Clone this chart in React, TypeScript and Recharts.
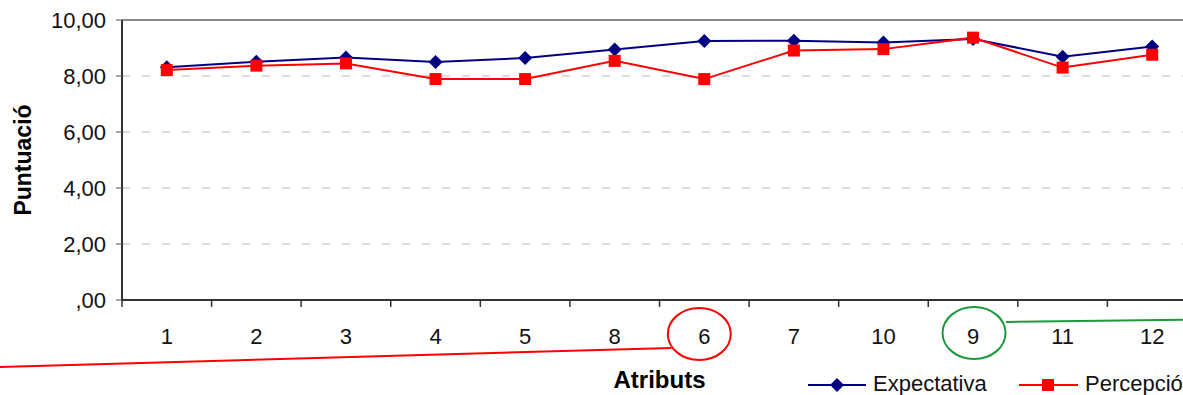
import {
  LineChart,
  Line,
  XAxis,
  YAxis,
  CartesianGrid,
  Legend,
  ReferenceLine,
} from 'recharts';

const categories = ['1', '2', '3', '4', '5', '8', '6', '7', '10', '9', '11', '12'];
const expectativa = [8.31, 8.51, 8.66, 8.5, 8.64, 8.95, 9.25, 9.26, 9.2, 9.32, 8.69, 9.05];
const percepcio = [8.21, 8.37, 8.45, 7.89, 7.89, 8.54, 7.89, 8.91, 8.96, 9.37, 8.3, 8.76];
const yTicks = [0, 2, 4, 6, 8, 10];

const data = categories.map((c, i) => ({
  atribut: c,
  expectativa: expectativa[i],
  percepcio: percepcio[i],
}));

const FONT = '"Liberation Sans", Arial, sans-serif';
const NAVY = '#000080';
const RED = '#ff0000';
const GREEN = '#1a9a3a';

const fmt = (v: number) => (v === 0 ? ',00' : v.toFixed(2).replace('.', ','));

function Diamond({ cx, cy }: any) {
  if (cx == null || cy == null) return null;
  const r = 7;
  return (
    <polygon
      points={`${cx},${cy - r} ${cx + r},${cy} ${cx},${cy + r} ${cx - r},${cy}`}
      fill={NAVY}
    />
  );
}

function Square({ cx, cy }: any) {
  if (cx == null || cy == null) return null;
  return <rect x={cx - 6} y={cy - 6} width={12} height={12} fill={RED} />;
}

// category tick: mark at band boundary (Excel style) + label, plus the hand-drawn circles
function XTick({ x, y, payload }: any) {
  const half = payload.offset || 44.8;
  const v = payload.value;
  return (
    <g>
      <line x1={x - half} y1={y} x2={x - half} y2={y + 7} stroke="#333" strokeWidth={1.5} />
      <text x={x} y={y + 44} textAnchor="middle" fontFamily={FONT} fontSize={22} fill="#111">
        {v}
      </text>
      {v === '6' && (
        <g fill="none" stroke={RED} strokeWidth={2}>
          <ellipse cx={x - 5} cy={y + 34} rx={31.5} ry={26} />
          <line x1={x - 33} y1={y + 48} x2={0} y2={y + 67} />
        </g>
      )}
      {v === '9' && (
        <g fill="none" stroke={GREEN} strokeWidth={2}>
          <ellipse cx={x + 1} cy={y + 33} rx={31.5} ry={26} />
          <line x1={x + 33} y1={y + 22} x2={x + 260} y2={y + 19} />
        </g>
      )}
    </g>
  );
}

function XLabel({ viewBox }: any) {
  const { x, y, width } = viewBox;
  return (
    <text x={x + width / 2} y={y + 88} textAnchor="middle" fontFamily={FONT} fontSize={24} fontWeight="bold" fill="#000">
      Atributs
    </text>
  );
}

function YLabel({ viewBox }: any) {
  const { x, y, height } = viewBox;
  const cx = x + 31;
  const cy = y + height / 2;
  return (
    <text
      x={cx}
      y={cy}
      transform={`rotate(-90 ${cx} ${cy})`}
      textAnchor="middle"
      fontFamily={FONT}
      fontSize={23}
      fontWeight="bold"
      fill="#000"
    >
      Puntuació
    </text>
  );
}

function LegendBox() {
  return (
    <svg width={400} height={26} style={{ display: 'block', overflow: 'visible' }}>
      <line x1={0} y1={13} x2={58} y2={13} stroke={NAVY} strokeWidth={2} />
      <Diamond cx={29} cy={13} />
      <text x={65} y={19} fontFamily={FONT} fontSize={22} fill="#111">Expectativa</text>
      <line x1={211} y1={13} x2={270} y2={13} stroke={RED} strokeWidth={2} />
      <Square cx={240} cy={13} />
      <text x={277} y={19} fontFamily={FONT} fontSize={22} fill="#111">Percepció</text>
    </svg>
  );
}

export default function App() {
  return (
    <div style={{ position: 'absolute', left: 0, top: 0, width: 1183, height: 395, overflow: 'hidden', background: '#fff' }}>
      <LineChart width={1210} height={395} data={data} margin={{ top: 20, right: 13, left: 0, bottom: 0 }}>
        <CartesianGrid vertical={false} stroke="#d0d0d0" strokeWidth={1.5} strokeDasharray="8 12" />
        <ReferenceLine y={10} stroke="#888" strokeWidth={2} />
        <XAxis
          dataKey="atribut"
          scale="band"
          interval={0}
          height={69}
          tickSize={0}
          tickMargin={0}
          tickLine={false}
          axisLine={{ stroke: '#333', strokeWidth: 2 }}
          tick={<XTick />}
          label={{ content: XLabel }}
        />
        <YAxis
          domain={[0, 10]}
          ticks={yTicks}
          width={122}
          tickFormatter={fmt}
          tickSize={6}
          tickMargin={10}
          tickLine={{ stroke: '#555' }}
          axisLine={{ stroke: '#333', strokeWidth: 2 }}
          tick={{ fontFamily: FONT, fontSize: 22, fill: '#111' }}
          label={{ content: YLabel }}
        />
        <Legend
          verticalAlign="bottom"
          content={<LegendBox />}
          wrapperStyle={{ left: 808, top: 372, bottom: 'auto', width: 'auto' }}
        />
        <Line
          type="linear"
          dataKey="expectativa"
          name="Expectativa"
          stroke={NAVY}
          strokeWidth={2}
          dot={<Diamond />}
          activeDot={false}
          isAnimationActive={false}
        />
        <Line
          type="linear"
          dataKey="percepcio"
          name="Percepció"
          stroke={RED}
          strokeWidth={2}
          dot={<Square />}
          activeDot={false}
          isAnimationActive={false}
        />
      </LineChart>
    </div>
  );
}
